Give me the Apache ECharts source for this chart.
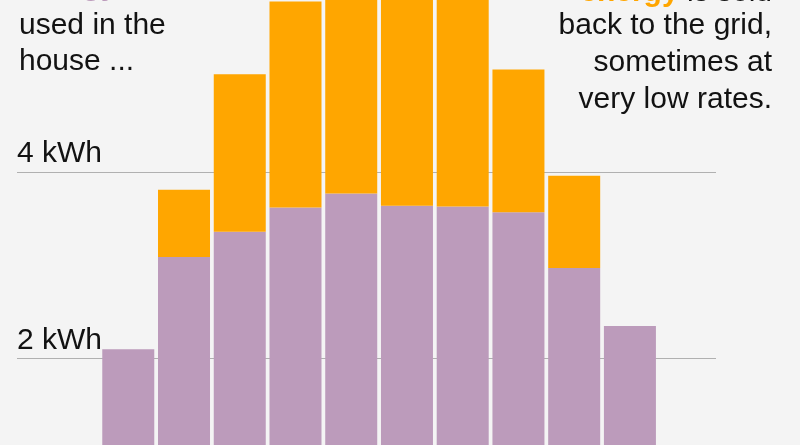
<!DOCTYPE html>
<html>
<head>
<meta charset="utf-8">
<script src="https://cdn.jsdelivr.net/npm/echarts@6/dist/echarts.min.js"></script>
<style>
  html, body { margin: 0; padding: 0; background: #f4f4f4; overflow: hidden; width: 800px; height: 445px; }
  /* The chart is taller than the window: like the reference, it is cropped top and bottom */
  #chart { position: absolute; left: 0; top: -61px; width: 800px; height: 606px; }
</style>
</head>
<body>
<div id="chart"></div>
<script>
// Hourly slots (bar positions, left to right)
const slots = ['1', '2', '3', '4', '5', '6', '7', '8', '9', '10'];
// Energy used in the house (kWh)
const usedInHouse = [2.1, 3.09, 3.36, 3.62, 3.77, 3.64, 3.63, 3.57, 2.97, 2.35];
// Energy sold back to the grid (kWh), stacked on top
const soldToGrid = [0, 0.72, 1.69, 2.21, 2.53, 2.66, 2.57, 1.53, 0.99, 0];
// Y tick values shown as labels
const yTicks = [2, 4];

const PURPLE = '#bc9bbb';
const ORANGE = '#ffa600';
const FONT = '"Liberation Sans", Arial, sans-serif';
const OFFSET = 61; // the chart div starts 61px above the window

const chart = echarts.init(document.getElementById('chart'));

const textLine = (x, y, text, align) => ({
  type: 'text',
  x: x, y: y + OFFSET,
  style: {
    text: text,
    font: '30px ' + FONT,
    fill: '#121212',
    align: align,
    verticalAlign: 'middle',
    rich: {
      p: { fill: PURPLE, font: 'bold 30px ' + FONT },
      o: { fill: ORANGE, font: 'bold 30px ' + FONT }
    }
  }
});

chart.setOption({
  backgroundColor: '#f4f4f4',
  animation: false,
  grid: [
    { left: 17, right: 84, top: 0, bottom: 0 },
    { left: 100.4, right: 142.2, top: 0, bottom: 0 }
  ],
  xAxis: [
    { gridIndex: 0, type: 'value', min: 0, max: 1, show: false },
    { gridIndex: 1, type: 'category', data: slots, show: false }
  ],
  yAxis: [
    {
      gridIndex: 0,
      type: 'value',
      min: 0,
      max: 6.5,
      interval: 2,
      axisLine: { show: false },
      axisTick: { show: false },
      splitLine: { show: true, lineStyle: { color: '#b0b0b0', width: 1 } },
      axisLabel: {
        inside: true,
        margin: 0,
        verticalAlign: 'bottom',
        padding: [0, 0, 3, 0],
        fontSize: 30,
        fontFamily: FONT,
        color: '#121212',
        formatter: v => (yTicks.indexOf(v) >= 0 ? v + ' kWh' : '')
      }
    },
    { gridIndex: 1, type: 'value', min: 0, max: 6.5, show: false }
  ],
  series: [
    {
      name: 'Used in the house',
      type: 'bar',
      xAxisIndex: 1,
      yAxisIndex: 1,
      stack: 'total',
      barWidth: 52,
      itemStyle: { color: PURPLE },
      data: usedInHouse
    },
    {
      name: 'Sold back to the grid',
      type: 'bar',
      xAxisIndex: 1,
      yAxisIndex: 1,
      stack: 'total',
      barWidth: 52,
      itemStyle: { color: ORANGE },
      data: soldToGrid
    }
  ],
  graphic: [
    textLine(19, -13.2, '{p|energy}', 'left'),
    textLine(19, 25.6, 'used in the', 'left'),
    textLine(19, 61.6, 'house ...', 'left'),
    textLine(772, -7.2, '{o|energy} is sold', 'right'),
    textLine(772, 25.6, 'back to the grid,', 'right'),
    textLine(772, 63, 'sometimes at', 'right'),
    textLine(772, 99.6, 'very low rates.', 'right')
  ]
});
</script>
</body>
</html>
